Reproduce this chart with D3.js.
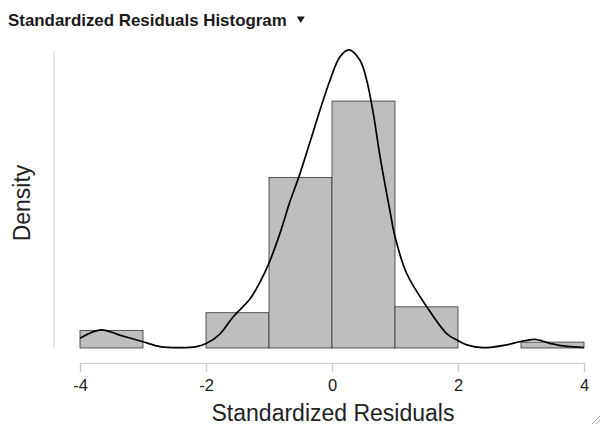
<!DOCTYPE html>
<html>
<head>
<meta charset="utf-8">
<script src="https://cdn.jsdelivr.net/npm/d3@7"></script>
<style>
  body { margin: 0; background: #fff; }
  text { font-family: "Liberation Sans", Arial, sans-serif; }
</style>
</head>
<body>
<script>
/* data */
const binEdges = [-4, -3, -2, -1, 0, 1, 2, 3, 4];
const binCounts = [3, 0, 6, 29, 42, 7, 0, 1];
const nObs = 88;

// kernel density curve, (residual, density)
const densX = [-4, -3.67, -3.37, -3.0, -2.73, -2.41, -2.15, -1.99, -1.78, -1.57, -1.30, -1.14, -1.0, -0.825, -0.667, -0.508, -0.349, -0.19, -0.03, 0.127, 0.27, 0.444, 0.55, 0.656, 0.76, 0.92, 1.0, 1.186, 1.503, 1.82, 1.98, 2.14, 2.40, 2.77, 2.98, 3.22, 3.46, 3.73, 4];
const densY = [0.019, 0.035, 0.025, 0.012, 0.0025, 0.0006, 0.0025, 0.009, 0.027, 0.060, 0.095, 0.128, 0.164, 0.222, 0.283, 0.337, 0.398, 0.46, 0.518, 0.563, 0.576, 0.556, 0.518, 0.453, 0.372, 0.265, 0.215, 0.144, 0.080, 0.028, 0.0155, 0.006, 0.0006, 0.006, 0.012, 0.0168, 0.009, 0.003, 0.001];

const xTicks = [-4, -2, 0, 2, 4];

/* svg */
const width = 604, height = 427;
const svg = d3.select('body').append('svg')
  .attr('width', width)
  .attr('height', height);

// title
const title = svg.append('text')
  .attr('x', 8)
  .attr('y', 26)
  .attr('font-family', '"DejaVu Sans", Verdana, sans-serif')
  .attr('font-weight', 'bold')
  .attr('font-size', 16.9)
  .attr('fill', '#1a1a1a')
  .text('Standardized Residuals Histogram');

const tEnd = 8 + title.node().getComputedTextLength();
svg.append('path')
  .attr('d', `M${tEnd + 10},16.5 L${tEnd + 18},16.5 L${tEnd + 14},23 Z`)
  .attr('fill', '#1a1a1a');

// scales
const x = d3.scaleLinear().domain([-4, 4]).range([80, 584]);
const y = d3.scaleLinear().domain([0, 0.574]).range([348, 51]);

const bins = binCounts.map((c, i) => ({ x0: binEdges[i], x1: binEdges[i + 1], d: c / nObs }));

// y axis line (no ticks)
svg.append('line')
  .attr('x1', 54).attr('x2', 54)
  .attr('y1', y(0.574)).attr('y2', y(0))
  .attr('stroke', '#d0d0d0')
  .attr('stroke-width', 1);

// bars
svg.append('g')
  .selectAll('rect')
  .data(bins.filter(b => b.d > 0))
  .enter().append('rect')
  .attr('x', d => x(d.x0))
  .attr('width', d => x(d.x1) - x(d.x0))
  .attr('y', d => y(d.d))
  .attr('height', d => y(0) - y(d.d))
  .attr('fill', '#bebebe')
  .attr('stroke', '#333')
  .attr('stroke-width', 0.8);

// density line
const pts = densX.map((v, i) => [v, densY[i]]);
svg.append('path')
  .datum(pts)
  .attr('fill', 'none')
  .attr('stroke', '#000')
  .attr('stroke-width', 1.7)
  .attr('d', d3.line().x(d => x(d[0])).y(d => y(d[1])).curve(d3.curveCatmullRom));

// x axis
const xAxis = svg.append('g')
  .attr('transform', 'translate(0,363)')
  .call(d3.axisBottom(x).tickValues(xTicks).tickSize(9).tickPadding(7).tickFormat(d3.format('d')));
xAxis.select('.domain').attr('stroke', '#c8c8c8').attr('stroke-width', 1.2);
xAxis.selectAll('.tick line').attr('stroke', '#c8c8c8').attr('stroke-width', 1.2);
xAxis.selectAll('.tick text')
  .attr('font-family', '"Liberation Sans", Arial, sans-serif')
  .attr('font-size', 16.5)
  .attr('fill', '#222')
  .text(d => d < 0 ? '-' + Math.abs(d) : d);

// axis titles
svg.append('text')
  .attr('x', 333)
  .attr('y', 421)
  .attr('text-anchor', 'middle')
  .attr('font-size', 23)
  .attr('fill', '#222')
  .text('Standardized Residuals');

svg.append('text')
  .attr('transform', 'translate(30,203) rotate(-90)')
  .attr('text-anchor', 'middle')
  .attr('font-size', 23)
  .attr('fill', '#222')
  .text('Density');

// resize grip
svg.append('g')
  .attr('stroke', '#888')
  .attr('stroke-width', 0.8)
  .selectAll('line')
  .data([[592, 424, 600, 416], [596, 424, 600, 420]])
  .enter().append('line')
  .attr('x1', d => d[0]).attr('y1', d => d[1])
  .attr('x2', d => d[2]).attr('y2', d => d[3]);
</script>
</body>
</html>
